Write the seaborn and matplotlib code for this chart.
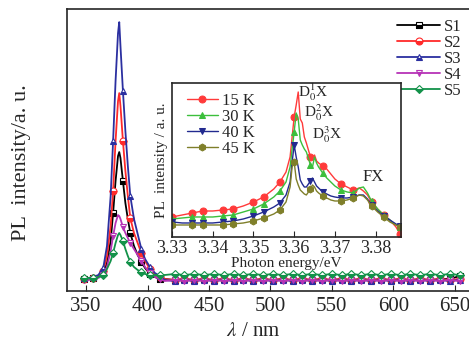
import matplotlib
matplotlib.use('Agg')
import matplotlib.pyplot as plt
import seaborn as sns
import numpy as np
import pandas as pd

# main spectra: wavelength (nm) and PL intensity (a.u.)
lam_peak = [348, 352, 356, 360, 364, 367, 370, 372, 374, 376, 377, 378, 380, 382, 384, 386, 389, 392, 395, 398, 402, 406, 410]
lam_flat = [414, 422, 430, 438, 446, 454, 462, 470, 478, 486, 494, 502, 510, 518, 526, 534, 542, 550, 558, 566,
            574, 582, 590, 598, 606, 614, 622, 630, 638, 646, 654]
lam = lam_peak + lam_flat

s1 = [12, 12, 13, 14, 18, 28, 50, 78, 110, 135, 139, 133, 110, 88, 72, 58, 45, 36, 29, 23, 17, 14, 12] + \
     [12, 11, 12, 11, 12, 11, 12, 11, 12, 11, 12, 11, 12, 11, 12, 11, 12, 11, 12, 11, 12, 11, 12, 11, 12, 11, 12, 11, 12, 12, 15]
s2 = [12, 12, 13, 15, 20, 35, 65, 100, 150, 190, 198, 185, 150, 120, 95, 73, 58, 48, 38, 30, 22, 16, 14] + \
     [12, 11, 12, 11, 12, 11, 12, 11, 12, 11, 12, 11, 12, 11, 12, 11, 12, 11, 12, 11, 12, 11, 12, 11, 12, 11, 12, 11, 12, 11, 12]
s3 = [13, 13, 14, 16, 23, 45, 95, 150, 210, 258, 269, 245, 200, 160, 125, 95, 72, 57, 42, 32, 24, 18, 15] + \
     [11, 10, 11, 10, 11, 10, 11, 10, 11, 10, 11, 10, 11, 10, 11, 10, 11, 10, 11, 10, 11, 10, 11, 10, 11, 10, 11, 10, 11, 10, 11]
s4 = [11, 11, 12, 13, 16, 24, 40, 55, 68, 76, 75, 72, 64, 58, 53, 48, 42, 36, 30, 24, 18, 14, 12] + \
     [10, 11, 10, 11, 10, 11, 10, 11, 10, 11, 10, 11, 10, 11, 10, 11, 10, 11, 10, 11, 10, 11, 10, 11, 10, 11, 10, 11, 10, 11, 10]
s5 = [13, 13, 13, 14, 16, 22, 30, 38, 48, 56, 58, 56, 50, 42, 35, 29, 24, 21, 19, 17, 16, 16, 16] + \
     [16, 17, 16, 17, 16, 17, 16, 17, 16, 17, 16, 17, 16, 17, 16, 17, 16, 17, 16, 17, 16, 17, 16, 17, 16, 17, 16, 17, 16, 17, 16]

# inset: low temperature spectra, photon energy (eV)
energy = [3.3300, 3.3325, 3.3350, 3.3375, 3.3400, 3.3425, 3.3450, 3.3475, 3.3500, 3.3525, 3.3550, 3.3565,
          3.3580, 3.3590, 3.3595, 3.3600, 3.3605, 3.3610, 3.3615, 3.3620, 3.3625, 3.3630, 3.3640, 3.3645,
          3.3650, 3.3655, 3.3660, 3.3670, 3.3680, 3.3690, 3.3700, 3.3715, 3.3730, 3.3745, 3.3760, 3.3770,
          3.3780, 3.3790, 3.3805, 3.3820, 3.3835, 3.3850, 3.3860]
k15 = [20, 22, 24, 26, 26, 27, 28, 31, 35, 40, 48, 55, 65, 80, 100, 120, 132, 145, 118, 114, 100, 94, 80, 79,
       82, 76, 74, 71, 68, 63, 58, 53, 50, 47, 49, 46, 42, 35, 28, 22, 17, 10, 3]
k30 = [18, 19, 20, 20, 20, 21, 22, 25, 28, 33, 40, 46, 55, 70, 88, 105, 124, 118, 97, 92, 88, 85, 72, 70,
       80, 74, 70, 64, 59, 55, 51, 47, 45, 44, 49, 50, 44, 36, 28, 22, 17, 12, 10]
k40 = [15, 14, 14, 14, 14, 15, 16, 18, 21, 25, 30, 34, 42, 55, 75, 92, 80, 70, 57, 53, 50, 50, 56, 59,
       55, 51, 49, 45, 43, 41, 40, 39, 39, 40, 42, 42, 38, 32, 26, 21, 17, 13, 11]
k45 = [12, 12, 12, 12, 12, 12, 13, 14, 16, 19, 23, 27, 35, 50, 70, 75, 58, 52, 47, 45, 43, 42, 48, 52,
       50, 46, 44, 41, 39, 37, 36, 36, 37, 39, 42, 41, 37, 31, 25, 20, 15, 12, 10]

main_df = pd.DataFrame({'lam': lam, 'S1': s1, 'S2': s2, 'S3': s3, 'S4': s4, 'S5': s5})
inset_df = pd.DataFrame({'E': energy, '15 K': k15, '30 K': k30, '40 K': k40, '45 K': k45})

sns.set_style('ticks')
plt.rcParams['font.family'] = ['Liberation Serif', 'DejaVu Serif']
plt.rcParams['mathtext.fontset'] = 'stix'

fig = plt.figure(figsize=(4.69, 3.48), dpi=100)
ax = fig.add_axes([0.1429, 0.1638, 0.862, 0.810])

def marker_idx(x, step, start):
    x = np.asarray(x, dtype=float)
    targets = np.arange(start, x.max() + 1e-9, step)
    return sorted(set(int(np.abs(x - t).argmin()) for t in targets))

main_styles = [('S1', 'black', 's'), ('S2', '#ff2a2a', 'o'), ('S3', '#2b2fa0', '^'),
               ('S4', '#b633b6', 'v'), ('S5', '#13924a', 'D')]
midx = marker_idx(lam, 7.8, 348)
for name, col, mk in main_styles:
    sns.lineplot(data=main_df, x='lam', y=name, ax=ax, color=col, lw=1.3, marker=mk,
                 markersize=5 if mk != 'D' else 4.5, fillstyle='bottom', markerfacecoloralt='white',
                 markeredgecolor=col, markeredgewidth=0.8, markevery=midx, label=name)

ax.set_xlim(334.5, 663.5)
ax.set_ylim(0, 282)
ax.set_xticks([350, 400, 450, 500, 550, 600, 650])
ax.set_yticks([])
ax.tick_params(axis='x', direction='in', length=4, width=0.8, labelsize=15, pad=4)
ax.spines['right'].set_visible(False)
for sp in ['left', 'top', 'bottom']:
    ax.spines[sp].set_linewidth(1.2)
ax.set_xlabel(r'$\lambda$ / nm', fontsize=15)
ax.xaxis.set_label_coords(0.46, -0.11)
ax.set_ylabel('PL  intensity/a. u.', fontsize=16)
ax.yaxis.set_label_coords(-0.09, 0.455)
ax.legend(loc='upper right', bbox_to_anchor=(1.0, 1.0), frameon=False, fontsize=12,
          handlelength=2.6, handletextpad=0.2, labelspacing=0.0, borderaxespad=0.2)

# inset
axin = fig.add_axes([0.3667, 0.319, 0.488, 0.4425])
inset_styles = [('15 K', '#ff3a3a', 'o'), ('30 K', '#3cbf3c', '^'), ('40 K', '#222a8f', 'v'), ('45 K', '#7f7f2a', 'h')]
iidx = marker_idx(energy, 0.0037, 3.3305)
for name, col, mk in inset_styles:
    sns.lineplot(data=inset_df, x='E', y=name, ax=axin, color=col, lw=1.0, marker=mk,
                 markersize=5, markeredgecolor=col, markevery=iidx, label=name)
axin.set_xlim(3.33, 3.3862)
axin.set_ylim(0, 154)
axin.set_xticks([3.33, 3.34, 3.35, 3.36, 3.37, 3.38])
axin.set_xticklabels(['3.33', '3.34', '3.35', '3.36', '3.37', '3.38'])
axin.set_yticks([])
axin.tick_params(axis='x', direction='in', length=4, width=0.8, labelsize=13, pad=2)
for sp in axin.spines.values():
    sp.set_linewidth(1.2)
axin.set_xlabel('Photon energy/eV', fontsize=11, labelpad=0)
axin.set_ylabel('PL  intensity / a. u.', fontsize=11, labelpad=3)
axin.legend(loc='upper left', bbox_to_anchor=(0.02, 1.0), frameon=False, fontsize=12,
            handlelength=1.9, handletextpad=0.2, labelspacing=0.0, borderaxespad=0.2)

axin.text(3.3610, 145, r'D$_0^1$X', fontsize=11, va='center', ha='left')
axin.text(3.3623, 124, r'D$_0^2$X', fontsize=11, va='center', ha='left')
axin.text(3.3644, 102, r'D$_0^3$X', fontsize=11, va='center', ha='left')
axin.text(3.3768, 60, 'FX', fontsize=12, va='center', ha='left')

fig.savefig('out.png', dpi=100)
